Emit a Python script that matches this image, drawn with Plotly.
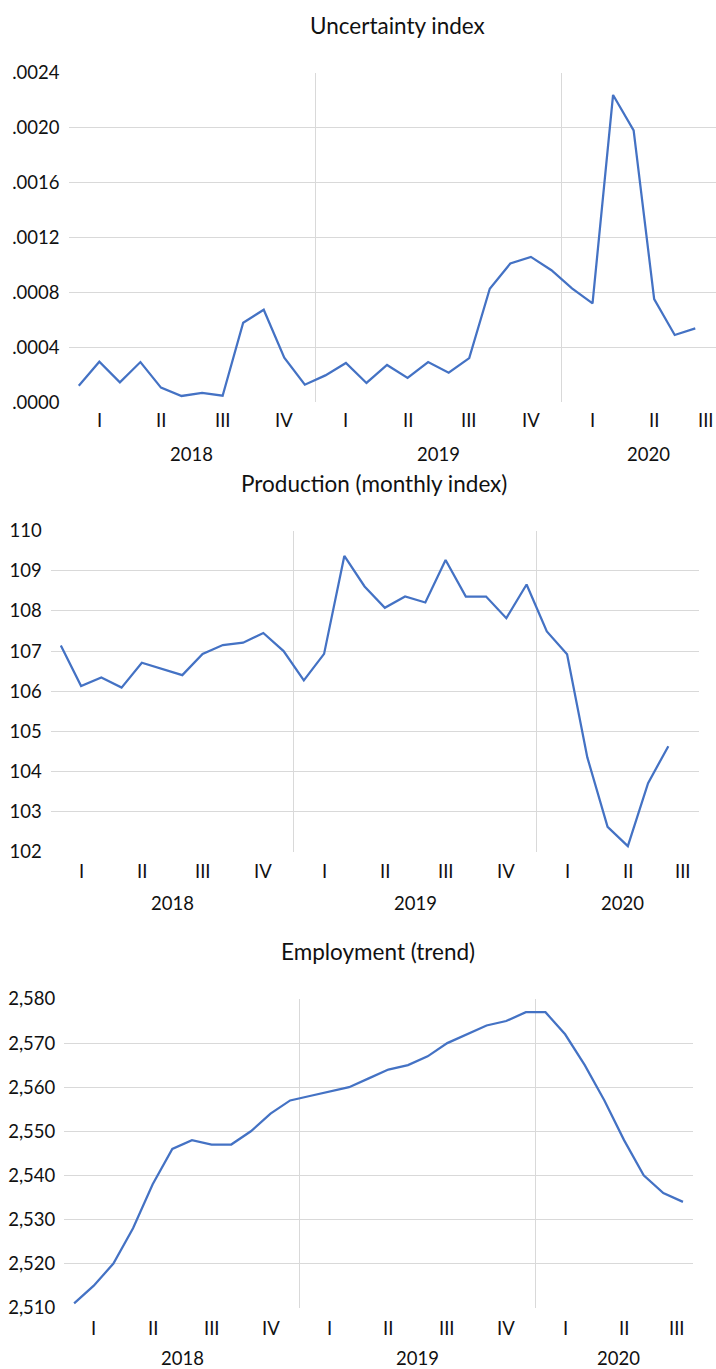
import plotly.graph_objects as go
import pandas as pd

# ---------------- data ----------------
years = [2018] * 12 + [2019] * 12 + [2020] * 8
quarters = (["I"] * 3 + ["II"] * 3 + ["III"] * 3 + ["IV"] * 3) * 2 + ["I"] * 3 + ["II"] * 3 + ["III"] * 2

uncertainty = [0.000121, 0.000296, 0.000145, 0.000293, 0.000107, 0.000046, 0.000068, 0.000048,
               0.000579, 0.000674, 0.000325, 0.000128, 0.000196, 0.000286, 0.000141, 0.000272,
               0.000177, 0.000293, 0.000216, 0.000322, 0.000827, 0.001011, 0.001059, 0.000962,
               0.000829, 0.000720, 0.002238, 0.001980, 0.000752, 0.000490, 0.000538]

production = [107.14, 106.13, 106.34, 106.09, 106.71, 106.55, 106.40, 106.93, 107.15, 107.21,
              107.45, 107.00, 106.27, 106.93, 109.37, 108.61, 108.08, 108.36, 108.21, 109.27,
              108.36, 108.36, 107.82, 108.66, 107.49, 106.92, 104.35, 102.62, 102.14, 103.71,
              104.63]

employment = [2511, 2515, 2520, 2528, 2538, 2546, 2548, 2547, 2547, 2550, 2554, 2557, 2558, 2559,
              2560, 2562, 2564, 2565, 2567, 2570, 2572, 2574, 2575, 2577, 2577, 2572, 2565, 2557,
              2548, 2540, 2536, 2534]

titles = ["Uncertainty index", "Production (monthly index)", "Employment (trend)"]
unc_ticks = [0.0, 0.0004, 0.0008, 0.0012, 0.0016, 0.0020, 0.0024]
prod_ticks = [102, 103, 104, 105, 106, 107, 108, 109, 110]
emp_ticks = [2510, 2520, 2530, 2540, 2550, 2560, 2570, 2580]

# ---------------- layout helpers ----------------
W, H = 716, 1369
FONT = "Lato, 'Open Sans', sans-serif"
LINE = "#4472C4"
GRID = "#d9d9d9"
TXT = "#111111"
TICK_SIZE = 18.5
TITLE_SIZE = 22.5


def fx(p):
    return p / W


def fy(p):
    return 1 - p / H


month_idx = list(range(len(years)))
df = pd.DataFrame({"m": month_idx, "year": years, "q": quarters})
q_groups = df.groupby(["year", "q"], sort=False)["m"].mean().reset_index()
y_groups = df.groupby("year", sort=False)["m"].mean().reset_index()
year_breaks = [m - 0.5 for m in df.groupby("year")["m"].min().tolist()[1:]]

# panel geometry (pixels); last_shift nudges the truncated final groups' labels
panels = [
    dict(vals=uncertainty, ticks=unc_ticks, text=[f"{t:.4f}".lstrip("0") for t in unc_ticks],
         left=68.5, right=716, month_w=20.55, top=72.7, bottom=402.3,
         tx=397, ty=25, qy=420, yy=454, q_shift=0.0, y_shift=0.22),
    dict(vals=production, ticks=prod_ticks, text=[str(t) for t in prod_ticks],
         left=50.7, right=698.6, month_w=20.25, top=530.7, bottom=851.7,
         tx=374, ty=483.5, qy=870.5, yy=903, q_shift=0.22, y_shift=0.22),
    dict(vals=employment, ticks=emp_ticks, text=[f"{t:,}" for t in emp_ticks],
         left=64.3, right=692.7, month_w=19.64, top=999, bottom=1307.7,
         tx=378, ty=951.5, qy=1327.5, yy=1358, q_shift=0.22, y_shift=0.22),
]

fig = go.Figure()
layout = dict(width=W, height=H, margin=dict(l=0, r=0, t=0, b=0, pad=0, autoexpand=False),
              paper_bgcolor="white", plot_bgcolor="white", showlegend=False,
              font=dict(family=FONT, size=TICK_SIZE, color=TXT))
annotations = []

for i, p in enumerate(panels):
    n = i + 1
    xa = "xaxis" if n == 1 else f"xaxis{n}"
    ya = "yaxis" if n == 1 else f"yaxis{n}"
    xr = "x" if n == 1 else f"x{n}"
    yr = "y" if n == 1 else f"y{n}"

    fig.add_trace(go.Scatter(x=month_idx[:len(p["vals"])], y=p["vals"], mode="lines",
                             line=dict(color=LINE, width=2.25), xaxis=xr, yaxis=yr,
                             hoverinfo="skip"))

    x_end = -0.5 + (p["right"] - p["left"]) / p["month_w"]
    layout[xa] = dict(domain=[fx(p["left"]), fx(p["right"])], range=[-0.5, x_end],
                      anchor=yr, tickmode="array", tickvals=year_breaks, showticklabels=False,
                      showgrid=True, gridcolor=GRID, gridwidth=1, zeroline=False,
                      showline=False, ticks="", fixedrange=True, automargin=False)
    layout[ya] = dict(domain=[fy(p["bottom"]), fy(p["top"])],
                      range=[p["ticks"][0], p["ticks"][-1]], anchor=xr,
                      tickmode="array", tickvals=p["ticks"], ticktext=p["text"],
                      showgrid=True, gridcolor=GRID, gridwidth=1, zeroline=False,
                      showline=False, ticks="", ticklabelstandoff=8, automargin=False,
                      tickfont=dict(family=FONT, size=TICK_SIZE, color=TXT), fixedrange=True)

    annotations.append(dict(text=titles[i], x=fx(p["tx"]), y=fy(p["ty"]),
                            xref="paper", yref="paper", xanchor="center", yanchor="middle",
                            showarrow=False, font=dict(family=FONT, size=TITLE_SIZE, color=TXT)))
    nq = len(q_groups)
    for k, r in q_groups.iterrows():
        xpos = float(r["m"]) + (p["q_shift"] if k == nq - 1 else 0.0)
        annotations.append(dict(text=r["q"], x=xpos, y=fy(p["qy"]), xref=xr, yref="paper",
                                xanchor="center", yanchor="middle", showarrow=False,
                                font=dict(family=FONT, size=TICK_SIZE, color=TXT)))
    ny = len(y_groups)
    for k, r in y_groups.iterrows():
        xpos = float(r["m"]) + (p["y_shift"] if k == ny - 1 else 0.0)
        annotations.append(dict(text=str(int(r["year"])), x=xpos, y=fy(p["yy"]), xref=xr,
                                yref="paper", xanchor="center", yanchor="middle",
                                showarrow=False, font=dict(family=FONT, size=TICK_SIZE, color=TXT)))

layout["annotations"] = annotations
fig.update_layout(**layout)
fig.write_html("out.html", config={"displayModeBar": False, "staticPlot": True},
               post_script="document.body.style.margin='0';document.body.style.overflow='hidden';")
